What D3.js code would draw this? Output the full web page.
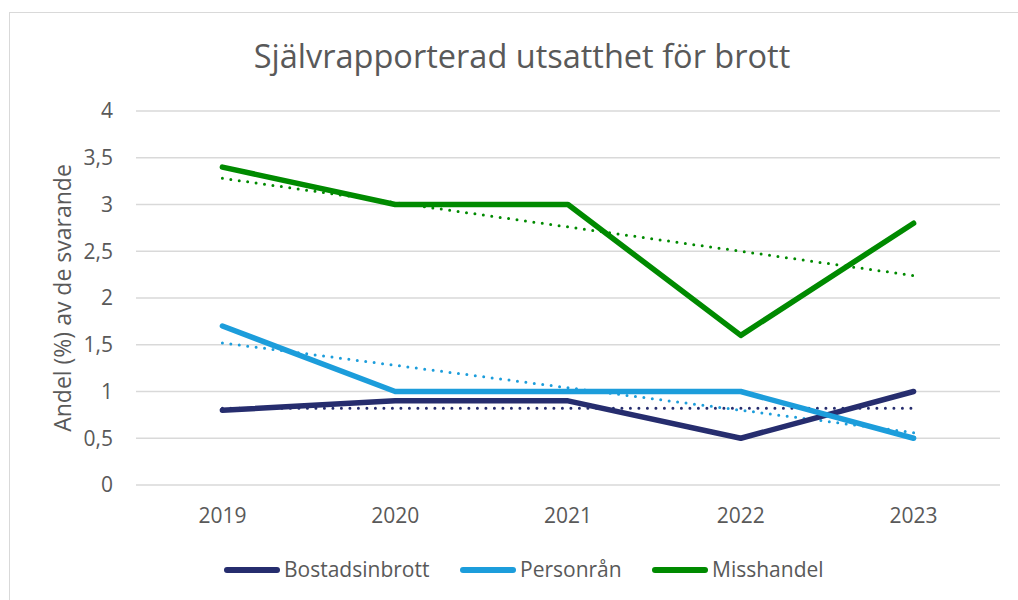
<!DOCTYPE html>
<html>
<head>
<meta charset="utf-8">
<script src="https://cdn.jsdelivr.net/npm/d3@7"></script>
<style>
  body { margin: 0; background: #fff; }
  text { font-family: "Open Sans", "Liberation Sans", sans-serif; fill: #595959; }
</style>
</head>
<body>
<script>
var width = 1018,
    height = 600;

// data
var years = ["2019", "2020", "2021", "2022", "2023"];
var bostadsinbrott = [0.8, 0.9, 0.9, 0.5, 1.0];
var personran = [1.7, 1.0, 1.0, 1.0, 0.5];
var misshandel = [3.4, 3.0, 3.0, 1.6, 2.8];
// linear trend lines (value at 2019, value at 2023)
var trendStart = [0.82, 1.52, 3.28];
var trendEnd = [0.82, 0.56, 2.24];
var yTicks = [0, 0.5, 1, 1.5, 2, 2.5, 3, 3.5, 4];
var seriesNames = ["Bostadsinbrott", "Personrån", "Misshandel"];
var colors = ["#262d6e", "#1c9ddb", "#008a00"];

var series = [bostadsinbrott, personran, misshandel];

var svg = d3.select("body").append("svg")
  .attr("width", width)
  .attr("height", height);

// chart frame
svg.append("rect")
  .attr("x", 9.5).attr("y", 12.5)
  .attr("width", 1020).attr("height", 600)
  .attr("fill", "none")
  .attr("stroke", "#d9d9d9");

var x = d3.scaleBand().domain(years).range([136, 1000]);
var y = d3.scaleLinear().domain([0, 4]).range([485, 111]);

// grid
svg.append("g").selectAll("line")
  .data(yTicks).enter()
  .append("line")
  .attr("x1", 136).attr("x2", 1000)
  .attr("y1", function(d) { return y(d); })
  .attr("y2", function(d) { return y(d); })
  .attr("stroke", "#d9d9d9")
  .attr("stroke-width", 1.3);

// y tick labels
var fmt = function(d) { return String(d).replace(".", ","); };
svg.append("g").selectAll("text")
  .data(yTicks).enter()
  .append("text")
  .attr("x", 113)
  .attr("y", function(d) { return y(d); })
  .attr("dy", "0.35em")
  .attr("text-anchor", "end")
  .attr("font-size", 21)
  .text(fmt);

// x tick labels
svg.append("g").selectAll("text")
  .data(years).enter()
  .append("text")
  .attr("x", function(d) { return x(d) + x.bandwidth() / 2; })
  .attr("y", 523)
  .attr("text-anchor", "middle")
  .attr("font-size", 21)
  .text(function(d) { return d; });

// title
svg.append("text")
  .attr("x", 522).attr("y", 68)
  .attr("text-anchor", "middle")
  .attr("font-size", 32.5)
  .text("Självrapporterad utsatthet för brott");

// y axis title
svg.append("text")
  .attr("transform", "translate(71,298) rotate(-90)")
  .attr("text-anchor", "middle")
  .attr("font-size", 23)
  .text("Andel (%) av de svarande");

var cx = function(i) { return x(years[i]) + x.bandwidth() / 2; };

// trend lines
series.forEach(function(s, k) {
  svg.append("line")
    .attr("x1", cx(0)).attr("x2", cx(years.length - 1))
    .attr("y1", y(trendStart[k])).attr("y2", y(trendEnd[k]))
    .attr("stroke", colors[k])
    .attr("stroke-width", 3)
    .attr("stroke-linecap", "round")
    .attr("stroke-dasharray", "0 8.5");
});

// series lines
var line = d3.line()
  .x(function(d, i) { return cx(i); })
  .y(function(d) { return y(d); });

series.forEach(function(s, k) {
  svg.append("path")
    .datum(s)
    .attr("d", line)
    .attr("fill", "none")
    .attr("stroke", colors[k])
    .attr("stroke-width", 5.5)
    .attr("stroke-linecap", "round")
    .attr("stroke-linejoin", "round");
});

// legend
var legendX = [227, 463, 655];
var legend = svg.append("g").selectAll("g")
  .data(seriesNames).enter()
  .append("g")
  .attr("transform", function(d, i) { return "translate(" + legendX[i] + ",570)"; });

legend.append("line")
  .attr("x1", 0).attr("x2", 50)
  .attr("stroke", function(d, i) { return colors[i]; })
  .attr("stroke-width", 6)
  .attr("stroke-linecap", "round");

legend.append("text")
  .attr("x", 57)
  .attr("y", 7)
  .attr("font-size", 21)
  .text(function(d) { return d; });
</script>
</body>
</html>
